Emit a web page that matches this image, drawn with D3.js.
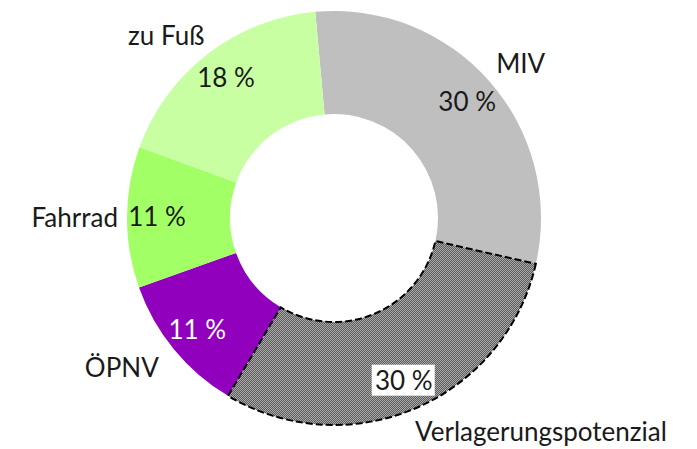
<!DOCTYPE html>
<html lang="de">
<head>
  <meta charset="UTF-8">
  <title>Modal Split</title>
  <style>
    body { margin: 0; background: #fff; }
    text { font-family: Lato, 'Noto Sans', sans-serif; }
  </style>
</head>
<body>
  <svg id="svg" width="697" height="449"></svg>

  <script src="https://d3js.org/d3.v7.min.js"></script>
  <script>
    // data, clockwise from (almost) 12 o'clock
    const categories = ['MIV', 'Verlagerungspotenzial', 'ÖPNV', 'Fahrrad', 'zu Fuß']
    const shares = [30, 30, 11, 11, 18]
    const valueLabels = ['30 %', '30 %', '11 %', '11 %', '18 %']

    const colors = ['#bfbfbf', 'url(#hatch)', '#9100bd', '#a2ff66', '#c8ffa3']
    const valueColors = ['#1a1a1a', '#1a1a1a', '#ffffff', '#1a1a1a', '#1a1a1a']

    // category label placement (angle in degrees from top, radius in px, anchor)
    const catAngle = [50.5, 136, 234.7, 270, 317.4]
    const catRadius = [242, 298, 260, 216, 248]
    const catAnchor = ['middle', 'middle', 'middle', 'end', 'middle']

    const cx = 334, cy = 218
    const outerR = 207, innerR = 104
    const startDeg = -5.2
    const fontSize = '26px'

    const svg = d3.select('#svg')

    // fine checker pattern for the "Verlagerungspotenzial" slice
    const defs = svg.append('defs')
    const pat = defs.append('pattern')
      .attr('id', 'hatch')
      .attr('patternUnits', 'userSpaceOnUse')
      .attr('width', 2).attr('height', 2)
    pat.append('rect').attr('width', 2).attr('height', 2).attr('fill', '#5e5e5e')
    pat.append('rect').attr('x', 0).attr('y', 0).attr('width', 1).attr('height', 1).attr('fill', '#a8a8a8')
    pat.append('rect').attr('x', 1).attr('y', 1).attr('width', 1).attr('height', 1).attr('fill', '#a8a8a8')

    const rad = d => d * Math.PI / 180
    const pie = d3.pie()
      .sort(null)
      .startAngle(rad(startDeg))
      .endAngle(rad(startDeg + 360))
      .value(d => d)

    const arcs = pie(shares)
    const arc = d3.arc().innerRadius(innerR).outerRadius(outerR)
    const labelArc = d3.arc().innerRadius(177).outerRadius(177)

    const g = svg.append('g').attr('transform', `translate(${cx}, ${cy})`)

    g.selectAll('path.slice')
      .data(arcs)
      .enter()
      .append('path')
      .attr('class', 'slice')
      .attr('d', arc)
      .attr('fill', (d, i) => colors[i])

    // dashed outline on the shifting potential
    g.append('path')
      .attr('d', arc(arcs[1]))
      .attr('fill', 'none')
      .attr('stroke', '#000')
      .attr('stroke-width', 2)
      .attr('stroke-dasharray', '7,3')

    // value labels
    const vals = g.selectAll('g.val')
      .data(arcs)
      .enter()
      .append('g')
      .attr('class', 'val')
      .attr('transform', d => `translate(${labelArc.centroid(d)})`)

    // white box behind the label on the patterned slice
    vals.filter((d, i) => i === 1)
      .append('rect')
      .attr('x', -32).attr('y', -16)
      .attr('width', 63).attr('height', 31)
      .attr('fill', '#fff')

    vals.append('text')
      .attr('text-anchor', 'middle')
      .attr('dy', '0.35em')
      .style('font-size', fontSize)
      .attr('fill', (d, i) => valueColors[i])
      .text((d, i) => valueLabels[i])

    // category labels
    g.selectAll('text.cat')
      .data(categories)
      .enter()
      .append('text')
      .attr('class', 'cat')
      .attr('x', (d, i) => catRadius[i] * Math.sin(rad(catAngle[i])))
      .attr('y', (d, i) => -catRadius[i] * Math.cos(rad(catAngle[i])))
      .attr('dy', '0.35em')
      .attr('text-anchor', (d, i) => catAnchor[i])
      .style('font-size', fontSize)
      .attr('fill', '#1a1a1a')
      .text(d => d)
  </script>
</body>
</html>
